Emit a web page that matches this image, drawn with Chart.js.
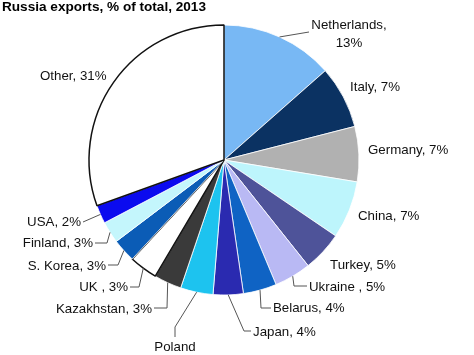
<!DOCTYPE html>
<html>
<head>
<meta charset="utf-8">
<script src="https://cdn.jsdelivr.net/npm/chart.js"></script>
<style>
  html, body { margin: 0; padding: 0; background: #fff; }
  #wrap { width: 474px; height: 355px; position: relative; }
</style>
</head>
<body>
<div id="wrap"><canvas id="myChart" width="474" height="355"></canvas></div>
<script>
// data (share of total exports, %)
const countries = ['Netherlands', 'Italy', 'Germany', 'China', 'Turkey', 'Ukraine', 'Belarus', 'Japan',
                   'Poland', 'Kazakhstan', 'UK', 'S. Korea', 'Finland', 'USA', 'Other'];
const shares = [13.5, 7.5, 6.6, 6.9, 4.8, 4.4, 4.0, 3.6, 3.9, 3.3, 3.4, 2.8, 2.6, 2.2, 30.5];
const labelTexts = [['Netherlands,', '13%'], ['Italy, 7%'], ['Germany, 7%'], ['China, 7%'], ['Turkey, 5%'],
                    ['Ukraine , 5%'], ['Belarus, 4%'], ['Japan, 4%'], ['Poland'], ['Kazakhstan, 3%'],
                    ['UK , 3%'], ['S. Korea, 3%'], ['Finland, 3%'], ['USA, 2%'], ['Other, 31%']];

const sliceColors = ['#78b8f4', '#0b3262', '#b1b1b1', '#bdf5fc', '#4e5399', '#b9b9f4', '#0f63c4', '#2a2ab0',
                     '#1dc3ef', '#3a3a3a', '#ffffff', '#0b5cb6', '#c4f6fc', '#0b0bef', '#ffffff'];
const edgeColors = sliceColors.map((c, i) => (i === 10 || i === 14) ? '#111' : '#ffffff');
const edgeWidths = sliceColors.map((c, i) => (i === 10 || i === 14) ? 1.5 : 0.8);

// label layout: text anchor and leader-line bends (after the slice anchor point)
const labelLayout = [
  {x: 349, y: 25, align: 'center', path: [[309, 32]]},
  {x: 350, y: 87, align: 'left', path: null},
  {x: 368, y: 150, align: 'left', path: null},
  {x: 358, y: 216, align: 'left', path: null},
  {x: 330, y: 265, align: 'left', path: null},
  {x: 309, y: 287, align: 'left', path: [[294, 286], [307, 286]]},
  {x: 273, y: 308, align: 'left', path: [[261, 308], [271, 308]]},
  {x: 253, y: 332, align: 'left', path: [[244, 331], [251, 331]]},
  {x: 175, y: 347, align: 'center', path: [[175, 327], [175, 337]]},
  {x: 152, y: 309, align: 'right', path: [[167, 308], [154, 308]]},
  {x: 128, y: 287, align: 'right', path: [[139, 287], [130, 287]]},
  {x: 106, y: 266, align: 'right', path: [[118, 265], [108, 265]]},
  {x: 93, y: 243, align: 'right', path: [[107, 243], [95, 243]]},
  {x: 81, y: 222, align: 'right', path: [[83, 222]]},
  {x: 40, y: 76, align: 'left', path: null}
];

const labelPlugin = {
  id: 'pieLabels',
  afterDraw(chart) {
    const ctx = chart.ctx;
    ctx.save();
    // title
    ctx.fillStyle = '#000';
    ctx.font = 'bold 13.6px "Liberation Sans", Arial, sans-serif';
    ctx.textAlign = 'left';
    ctx.textBaseline = 'middle';
    ctx.fillText('Russia exports, % of total, 2013', 2, 7);

    const arcs = chart.getDatasetMeta(0).data;
    ctx.font = '13.3px "Liberation Sans", Arial, sans-serif';
    arcs.forEach((arc, i) => {
      const lay = labelLayout[i];
      if (lay.path) {
        const mid = (arc.startAngle + arc.endAngle) / 2;
        const ax = arc.x + Math.cos(mid) * arc.outerRadius;
        const ay = arc.y + Math.sin(mid) * arc.outerRadius;
        ctx.strokeStyle = '#555';
        ctx.lineWidth = 1;
        ctx.beginPath();
        ctx.moveTo(ax, ay);
        lay.path.forEach(p => ctx.lineTo(p[0], p[1]));
        ctx.stroke();
      }
      ctx.fillStyle = '#111';
      ctx.textAlign = lay.align;
      labelTexts[i].forEach((t, k) => ctx.fillText(t, lay.x, lay.y + k * 18));
    });
    ctx.restore();
  }
};

new Chart(document.getElementById('myChart'), {
  type: 'pie',
  data: {
    labels: countries,
    datasets: [{
      data: shares,
      backgroundColor: sliceColors,
      borderColor: edgeColors,
      borderWidth: edgeWidths,
      hoverOffset: 0
    }]
  },
  options: {
    responsive: false,
    animation: false,
    radius: 135,
    layout: {padding: {top: 25, bottom: 60, left: 20, right: 46}},
    plugins: {
      legend: {display: false},
      tooltip: {enabled: false},
      title: {display: false}
    }
  },
  plugins: [labelPlugin]
});
</script>
</body>
</html>
